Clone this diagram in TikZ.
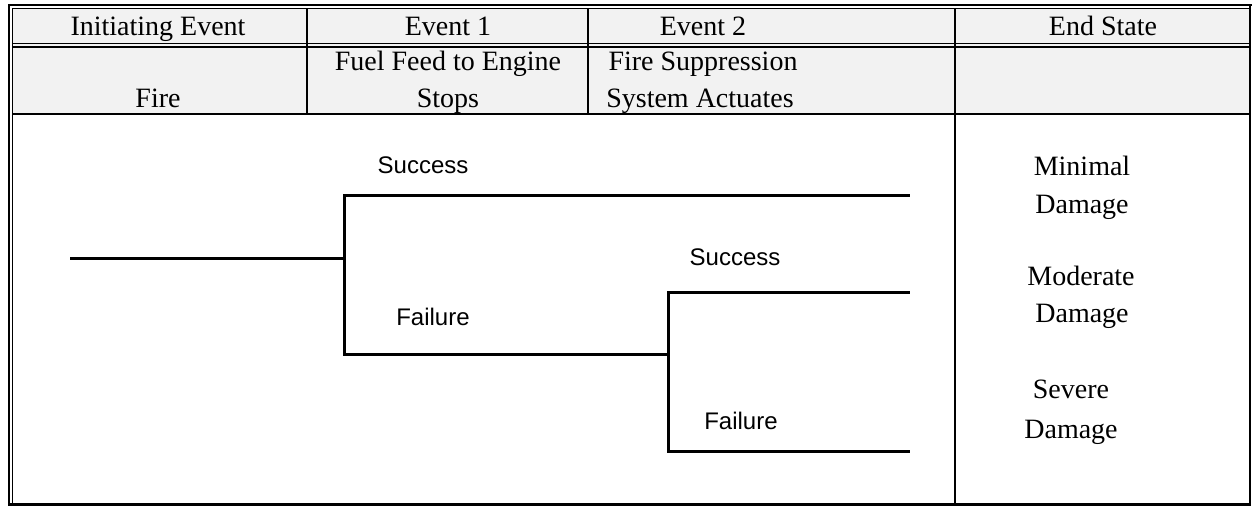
\documentclass[tikz,border=0pt]{standalone}
\usepackage{fontspec}
\setmainfont{Liberation Serif}
\newfontfamily\labelfont{Liberation Sans}
\begin{document}
\begin{tikzpicture}[x=1pt,y=-1pt,
  cell/.style={anchor=base,inner sep=0pt,font=\fontsize{28}{34}\selectfont},
  branchlabel/.style={anchor=base,inner sep=0pt,font=\labelfont\fontsize{24}{28}\selectfont},
  branch/.style={line width=3pt},
  rule/.style={line width=#1}]
\useasboundingbox (0,0) rectangle (1252,506);

% header shading
\fill[black!5] (12,8) rectangle (1250,114);

% outer frame: double on left and top
\draw[rule=2.5pt] (9,4.5) -- (9,505.5);
\draw[rule=2.5pt] (8,4.8) -- (1251.5,4.8);
\draw[rule=1pt] (12,8) -- (12,505);
\draw[rule=1pt] (12,8.2) -- (1251,8.2);
\draw[rule=2pt] (1250,4) -- (1250,505.5);
\draw[rule=2.2pt] (8,504.5) -- (1251,504.5);

% row separators
\draw[rule=1pt] (12,43) -- (1250,43);
\draw[rule=1.6pt] (12,47) -- (1250,47);
\draw[rule=2.2pt] (12,114) -- (1250,114);

% column separators
\draw[rule=2pt] (306.5,8) -- (306.5,114);
\draw[rule=2pt] (588,8) -- (588,114);
\draw[rule=2pt] (955,8) -- (955,505);

% header texts
\node[cell] (h1) at (158,35) {Initiating Event};
\node[cell] (h2) at (448,35) {Event 1};
\node[cell] (h3) at (703,35) {Event 2};
\node[cell] (h4) at (1103,35) {End State};
\node[cell] (fire) at (158,107) {Fire};
\node[cell] (e1a) at (448,70) {Fuel Feed to Engine};
\node[cell] (e1b) at (448,107) {Stops};
\node[cell] (e2a) at (703,70) {Fire Suppression};
\node[cell] (e2b) at (700,107) {System Actuates};

% end states
\node[cell] (min1) at (1082,175) {Minimal};
\node[cell] (min2) at (1082,213) {Damage};
\node[cell] (mod1) at (1081,285) {Moderate};
\node[cell] (mod2) at (1082,322) {Damage};
\node[cell] (sev1) at (1071,398) {Severe};
\node[cell] (sev2) at (1071,438) {Damage};

% event tree
\coordinate (root) at (70,258);
\coordinate (f1) at (344,258);
\coordinate (f1s) at (344,195);
\coordinate (f1f) at (344,354);
\coordinate (end1) at (908,195);
\coordinate (f2) at (668,354);
\coordinate (f2s) at (668,292);
\coordinate (f2f) at (668,451);
\coordinate (end2) at (908,292);
\coordinate (end3) at (908,451);

\draw[branch] (root) -- (f1);
\draw[branch,line cap=rect] (end1) -- (f1s) -- (f1f) -- (f2);
\draw[branch,line cap=rect] (end2) -- (f2s) -- (f2f) -- (end3);

\node[branchlabel] (s1) at (423,173) {Success};
\node[branchlabel] (fl1) at (433,325) {Failure};
\node[branchlabel] (s2) at (735,265) {Success};
\node[branchlabel] (fl2) at (741,429) {Failure};
\end{tikzpicture}
\end{document}
